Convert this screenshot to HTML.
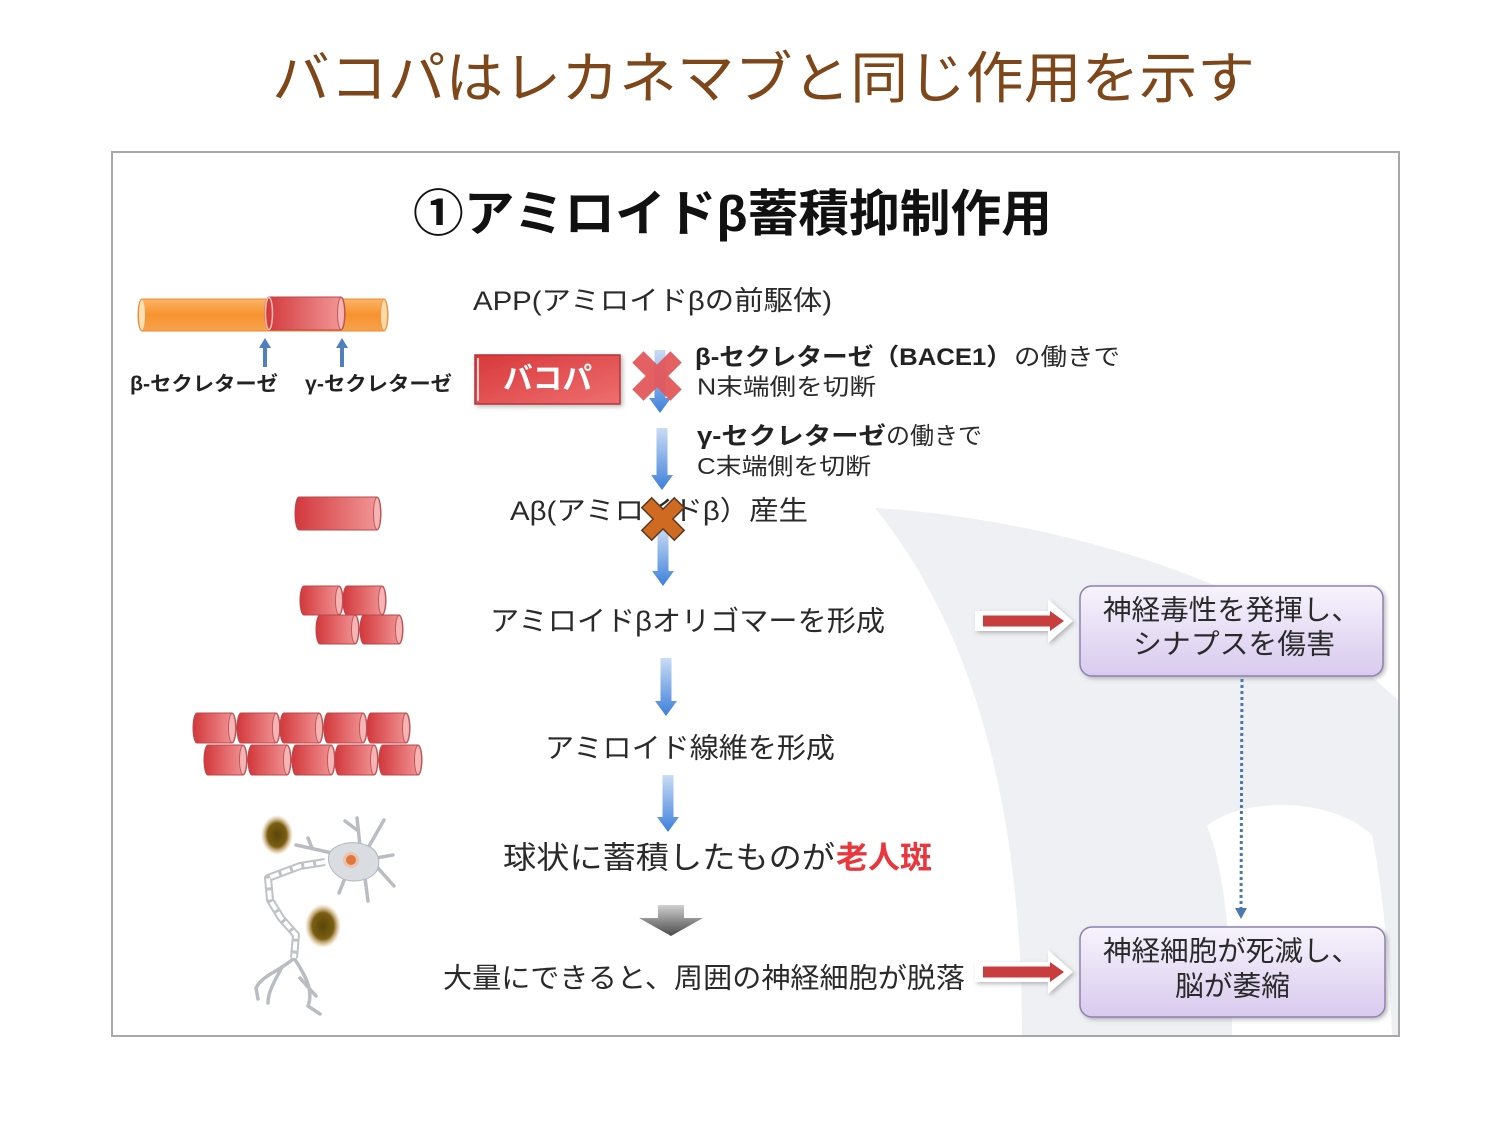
<!DOCTYPE html>
<html><head><meta charset="utf-8">
<style>
html,body{margin:0;padding:0;background:#fff;}
svg{display:block;}
text{font-family:"Liberation Sans","Noto Sans CJK JP",sans-serif;}
</style></head><body>
<svg width="1500" height="1125" viewBox="0 0 1500 1125" xmlns="http://www.w3.org/2000/svg">
<defs>
 <linearGradient id="redc" x1="0" y1="0" x2="1" y2="0">
  <stop offset="0" stop-color="#d2383c"/><stop offset="1" stop-color="#f39a9a"/>
 </linearGradient>
 <linearGradient id="redbox" x1="0" y1="0" x2="1" y2="1">
  <stop offset="0" stop-color="#d8383a"/><stop offset="1" stop-color="#ee6f70"/>
 </linearGradient>
 <linearGradient id="orange" x1="0" y1="0" x2="0" y2="1">
  <stop offset="0" stop-color="#fbb466"/><stop offset="0.5" stop-color="#f7922e"/><stop offset="1" stop-color="#f6a24e"/>
 </linearGradient>
 <linearGradient id="blue" x1="0" y1="0" x2="0" y2="1">
  <stop offset="0" stop-color="#cadcf4"/><stop offset="1" stop-color="#3d80db"/>
 </linearGradient>
 <linearGradient id="box" x1="0" y1="0" x2="0" y2="1">
  <stop offset="0" stop-color="#f7f3fc"/><stop offset="1" stop-color="#d8caee"/>
 </linearGradient>
 <linearGradient id="gray" x1="0" y1="0" x2="0" y2="1">
  <stop offset="0" stop-color="#d0d0d0"/><stop offset="1" stop-color="#4a4a4a"/>
 </linearGradient>
 <radialGradient id="pl">
  <stop offset="0" stop-color="#5a450a"/><stop offset="0.6" stop-color="#7a5e12"/><stop offset="1" stop-color="#d0a050" stop-opacity="0"/>
 </radialGradient>
 <filter id="sh" x="-20%" y="-20%" width="140%" height="150%">
  <feDropShadow dx="2" dy="2" stdDeviation="2" flood-color="#777" flood-opacity="0.5"/>
 </filter>
</defs>

<!-- Title -->
<text x="272" y="98" font-size="56" fill="#7d4719" textLength="983" lengthAdjust="spacingAndGlyphs">バコパはレカネマブと同じ作用を示す</text>

<!-- Frame -->
<rect x="112" y="152" width="1287" height="884" fill="#fff" stroke="#a8a8a8" stroke-width="2"/>

<!-- background crescent -->
<path d="M875,508 C1000,515 1250,560 1398,700 L1398,1035 L1022,1035 C1022,850 990,650 875,508 Z" fill="#eef0f4"/>
<path d="M1207,826 C1240,798 1330,795 1372,835 C1385,900 1390,980 1392,1035 L1232,1035 C1232,950 1225,870 1207,826 Z" fill="#ffffff"/>

<!-- Heading -->
<text x="413" y="231" font-size="50" font-weight="bold" fill="#111" textLength="639" lengthAdjust="spacingAndGlyphs">①アミロイドβ蓄積抑制作用</text>

<!-- APP bar -->
<path d="M142,299 H384 A4,16 0 0 1 384,331 H142 A4,16 0 0 1 142,299 Z" fill="url(#orange)" stroke="#e88a30" stroke-width="1"/>
<ellipse cx="142" cy="315" rx="3" ry="15" fill="#ffe0b8"/>
<ellipse cx="384" cy="315" rx="3.5" ry="15.5" fill="#ffd9a8" stroke="#eb9a48"/>
<path d="M269,297 H341 A4,16.5 0 0 1 341,330 H269 A4,16.5 0 0 1 269,297 Z" fill="url(#redc)" stroke="#b8484a" stroke-width="1"/>
<ellipse cx="269" cy="313.5" rx="3.5" ry="16" fill="none" stroke="#f5c0b0" stroke-width="1.5"/>
<ellipse cx="341" cy="313.5" rx="3.5" ry="16" fill="#f6b4b4" stroke="#c0585a"/>

<!-- small up arrows -->
<path d="M263,367 V348 H259 L265,338 L271,348 H267 V367 Z" fill="#4f7fbf"/>
<path d="M340,367 V348 H336 L342,338 L348,348 H344 V367 Z" fill="#4f7fbf"/>
<text x="130" y="390.5" font-size="20" font-weight="bold" fill="#222" textLength="148" lengthAdjust="spacingAndGlyphs">β-セクレターゼ</text>
<text x="305" y="390.5" font-size="20" font-weight="bold" fill="#222" textLength="147" lengthAdjust="spacingAndGlyphs">γ-セクレターゼ</text>

<!-- APP text -->
<text x="473" y="310" font-size="27" fill="#2a2a2a" textLength="359" lengthAdjust="spacingAndGlyphs">APP(アミロイドβの前駆体)</text>

<!-- Bacopa box -->
<rect x="475" y="355" width="145" height="49" fill="url(#redbox)" stroke="#b83236" stroke-width="1.5" filter="url(#sh)"/>
<line x1="478" y1="358" x2="478" y2="401" stroke="#fbd0d0" stroke-width="2"/>
<text x="503" y="389" font-size="30" font-weight="bold" fill="#fff" textLength="89" lengthAdjust="spacingAndGlyphs">バコパ</text>

<!-- blue arrows -->
<path d="M654.5,350H665.5V398H671L660,413L649,398H654.5Z" fill="url(#blue)"/>
<path d="M656.5,428H667.5V475H673L662,490L651,475H656.5Z" fill="url(#blue)"/>
<path d="M657.5,528H668.5V571H674L663,586L652,571H657.5Z" fill="url(#blue)"/>
<path d="M660.5,658H671.5V701H677L666,716L655,701H660.5Z" fill="url(#blue)"/>
<path d="M662.5,775H673.5V817H679L668,832L657,817H662.5Z" fill="url(#blue)"/>

<!-- red X -->
<g transform="translate(657,376) rotate(45)">
 <path d="M-8,-27 H8 V-8 H27 V8 H8 V27 H-8 V8 H-27 V-8 H-8 Z" fill="#e2575b" opacity="0.95"/>
</g>

<!-- step texts -->
<text x="695" y="365" font-size="24" font-weight="bold" fill="#222" textLength="317" lengthAdjust="spacingAndGlyphs">β-セクレターゼ（BACE1）</text>
<text x="1014" y="365" font-size="24" fill="#2a2a2a" textLength="106" lengthAdjust="spacingAndGlyphs">の働きで</text>
<text x="697" y="394.5" font-size="23" fill="#2a2a2a" textLength="179" lengthAdjust="spacingAndGlyphs">N末端側を切断</text>
<text x="697" y="444" font-size="24" font-weight="bold" fill="#222" textLength="189" lengthAdjust="spacingAndGlyphs">γ-セクレターゼ</text>
<text x="886" y="444" font-size="24" fill="#2a2a2a" textLength="96" lengthAdjust="spacingAndGlyphs">の働きで</text>
<text x="697" y="474" font-size="23" fill="#2a2a2a" textLength="174" lengthAdjust="spacingAndGlyphs">C末端側を切断</text>

<!-- Abeta -->
<text x="510" y="520" font-size="27" fill="#2a2a2a" textLength="298" lengthAdjust="spacingAndGlyphs">Aβ(アミロイドβ）産生</text>
<g transform="translate(663,519) rotate(45)">
 <path d="M-7,-23 H7 V-7 H23 V7 H7 V23 H-7 V7 H-23 V-7 H-7 Z" fill="#cf6a22" stroke="#5a3a22" stroke-width="1.5"/>
</g>

<!-- Abeta cylinder -->
<g transform="translate(295,497)">
 <path d="M4,0 H82 A4,16.5 0 0 1 82,33 H4 A4,16.5 0 0 1 4,0 Z" fill="url(#redc)" stroke="#b8484a"/>
 <ellipse cx="82" cy="16.5" rx="3.5" ry="16" fill="#f6b4b4" stroke="#c0585a"/>
</g>

<!-- oligomer -->
<g transform="translate(300,586)"><path d="M4,0H39A4,14.5 0 0 1 39,29H4A4,14.5 0 0 1 4,0Z" fill="url(#redc)" stroke="#b8484a"/><ellipse cx="39" cy="14.5" rx="3.5" ry="14" fill="#f6b4b4" stroke="#c0585a"/></g>
<g transform="translate(343,586)"><path d="M4,0H39A4,14.5 0 0 1 39,29H4A4,14.5 0 0 1 4,0Z" fill="url(#redc)" stroke="#b8484a"/><ellipse cx="39" cy="14.5" rx="3.5" ry="14" fill="#f6b4b4" stroke="#c0585a"/></g>
<g transform="translate(316,615)"><path d="M4,0H39A4,14.5 0 0 1 39,29H4A4,14.5 0 0 1 4,0Z" fill="url(#redc)" stroke="#b8484a"/><ellipse cx="39" cy="14.5" rx="3.5" ry="14" fill="#f6b4b4" stroke="#c0585a"/></g>
<g transform="translate(360,615)"><path d="M4,0H39A4,14.5 0 0 1 39,29H4A4,14.5 0 0 1 4,0Z" fill="url(#redc)" stroke="#b8484a"/><ellipse cx="39" cy="14.5" rx="3.5" ry="14" fill="#f6b4b4" stroke="#c0585a"/></g>

<!-- fibril -->
<g transform="translate(193,713)"><path d="M4,0H39A4,15 0 0 1 39,30H4A4,15 0 0 1 4,0Z" fill="url(#redc)" stroke="#b8484a"/><ellipse cx="39" cy="15" rx="3.5" ry="14.5" fill="#f6b4b4" stroke="#c0585a"/></g>
<g transform="translate(237,713)"><path d="M4,0H39A4,15 0 0 1 39,30H4A4,15 0 0 1 4,0Z" fill="url(#redc)" stroke="#b8484a"/><ellipse cx="39" cy="15" rx="3.5" ry="14.5" fill="#f6b4b4" stroke="#c0585a"/></g>
<g transform="translate(280,713)"><path d="M4,0H39A4,15 0 0 1 39,30H4A4,15 0 0 1 4,0Z" fill="url(#redc)" stroke="#b8484a"/><ellipse cx="39" cy="15" rx="3.5" ry="14.5" fill="#f6b4b4" stroke="#c0585a"/></g>
<g transform="translate(324,713)"><path d="M4,0H39A4,15 0 0 1 39,30H4A4,15 0 0 1 4,0Z" fill="url(#redc)" stroke="#b8484a"/><ellipse cx="39" cy="15" rx="3.5" ry="14.5" fill="#f6b4b4" stroke="#c0585a"/></g>
<g transform="translate(367,713)"><path d="M4,0H39A4,15 0 0 1 39,30H4A4,15 0 0 1 4,0Z" fill="url(#redc)" stroke="#b8484a"/><ellipse cx="39" cy="15" rx="3.5" ry="14.5" fill="#f6b4b4" stroke="#c0585a"/></g>
<g transform="translate(204,745)"><path d="M4,0H39A4,15 0 0 1 39,30H4A4,15 0 0 1 4,0Z" fill="url(#redc)" stroke="#b8484a"/><ellipse cx="39" cy="15" rx="3.5" ry="14.5" fill="#f6b4b4" stroke="#c0585a"/></g>
<g transform="translate(248,745)"><path d="M4,0H39A4,15 0 0 1 39,30H4A4,15 0 0 1 4,0Z" fill="url(#redc)" stroke="#b8484a"/><ellipse cx="39" cy="15" rx="3.5" ry="14.5" fill="#f6b4b4" stroke="#c0585a"/></g>
<g transform="translate(292,745)"><path d="M4,0H39A4,15 0 0 1 39,30H4A4,15 0 0 1 4,0Z" fill="url(#redc)" stroke="#b8484a"/><ellipse cx="39" cy="15" rx="3.5" ry="14.5" fill="#f6b4b4" stroke="#c0585a"/></g>
<g transform="translate(335,745)"><path d="M4,0H39A4,15 0 0 1 39,30H4A4,15 0 0 1 4,0Z" fill="url(#redc)" stroke="#b8484a"/><ellipse cx="39" cy="15" rx="3.5" ry="14.5" fill="#f6b4b4" stroke="#c0585a"/></g>
<g transform="translate(379,745)"><path d="M4,0H39A4,15 0 0 1 39,30H4A4,15 0 0 1 4,0Z" fill="url(#redc)" stroke="#b8484a"/><ellipse cx="39" cy="15" rx="3.5" ry="14.5" fill="#f6b4b4" stroke="#c0585a"/></g>

<!-- middle texts -->
<text x="490" y="630.5" font-size="28" fill="#2a2a2a" textLength="395" lengthAdjust="spacingAndGlyphs">アミロイドβオリゴマーを形成</text>
<text x="545" y="757.5" font-size="28" fill="#2a2a2a" textLength="290" lengthAdjust="spacingAndGlyphs">アミロイド線維を形成</text>
<text x="503" y="868.5" font-size="31" fill="#2a2a2a" textLength="332" lengthAdjust="spacingAndGlyphs">球状に蓄積したものが</text>
<text x="836" y="868.5" font-size="31" font-weight="bold" fill="#e8383d" textLength="96" lengthAdjust="spacingAndGlyphs">老人斑</text>
<path d="M658,905 H684 V918 H703 L671,936 L639,918 H658 Z" fill="url(#gray)"/>
<text x="443" y="987.5" font-size="28" fill="#2a2a2a" textLength="522" lengthAdjust="spacingAndGlyphs">大量にできると、周囲の神経細胞が脱落</text>

<!-- neuron -->
<ellipse cx="277" cy="835" rx="16" ry="20" fill="url(#pl)"/>
<ellipse cx="323" cy="926" rx="18" ry="22" fill="url(#pl)"/>
<g fill="none" stroke="#b9bdc2" stroke-width="3.5" stroke-linecap="round" stroke-linejoin="round">
 <path d="M360,846 L357,818"/>
 <path d="M357,830 L345,821"/>
 <path d="M368,848 L384,820"/>
 <path d="M376,858 L393,855"/>
 <path d="M377,867 L394,886"/>
 <path d="M365,878 L368,901"/>
 <path d="M345,878 L339,893"/>
 <path d="M332,853 L296,845"/>
 <path d="M312,848 L308,838"/>
 <path d="M294,958 C282,970 262,975 256,988 L258,999"/>
 <path d="M282,967 C274,982 268,992 268,1003"/>
 <path d="M294,958 C305,975 314,990 308,1006 L320,1014"/>
 <path d="M300,978 L316,996"/>
</g>
<path d="M325,862 L300,866 L268,878 L270,900 L281,918 L296,935 L294,958" fill="none" stroke="#bfc2c6" stroke-width="8" stroke-linejoin="round"/>
<path d="M325,862 L300,866 L268,878 L270,900 L281,918 L296,935 L294,958" fill="none" stroke="#fff" stroke-width="4" stroke-dasharray="9,3" stroke-linejoin="round"/>
<path d="M330,852 C338,842 356,840 368,846 C378,850 382,862 376,872 C368,882 348,884 338,876 C330,870 326,860 330,852Z" fill="#d9dce1" stroke="#b3b7bd"/>
<circle cx="351" cy="860" r="8" fill="#f0b898" opacity="0.7"/>
<circle cx="351" cy="860" r="5" fill="#e0783c"/>

<!-- red right arrows -->
<g filter="url(#sh)">
 <path d="M975,611 H1048 V599 L1073,621 L1048,643 V631 H975 Z" fill="#fff"/>
 <path d="M975,962 H1048 V950 L1073,972 L1048,994 V982 H975 Z" fill="#fff"/>
</g>
<path d="M983,615.5 H1050 V611 L1064,621 L1050,631 V626.5 H983 Z" fill="#c83e3e"/>
<path d="M983,966.5 H1050 V962 L1064,972 L1050,982 V977.5 H983 Z" fill="#c83e3e"/>

<!-- boxes -->
<rect x="1080" y="586" width="303" height="90" rx="12" fill="url(#box)" stroke="#8e82ae" stroke-width="1.5" filter="url(#sh)"/>
<rect x="1080" y="927" width="305" height="90" rx="12" fill="url(#box)" stroke="#8e82ae" stroke-width="1.5" filter="url(#sh)"/>
<text x="1103" y="619.5" font-size="28" fill="#2a2a2a" textLength="257" lengthAdjust="spacingAndGlyphs">神経毒性を発揮し、</text>
<text x="1133" y="653.5" font-size="28" fill="#2a2a2a" textLength="202" lengthAdjust="spacingAndGlyphs">シナプスを傷害</text>
<text x="1103" y="960.5" font-size="28" fill="#2a2a2a" textLength="257" lengthAdjust="spacingAndGlyphs">神経細胞が死滅し、</text>
<text x="1175" y="995.5" font-size="28" fill="#2a2a2a" textLength="115" lengthAdjust="spacingAndGlyphs">脳が萎縮</text>

<!-- dotted connector -->
<line x1="1242" y1="679" x2="1241" y2="909" stroke="#4a78b0" stroke-width="3" stroke-dasharray="3,3"/>
<path d="M1235,908 L1247,908 L1241,919 Z" fill="#4a78b0"/>
</svg>
</body></html>
